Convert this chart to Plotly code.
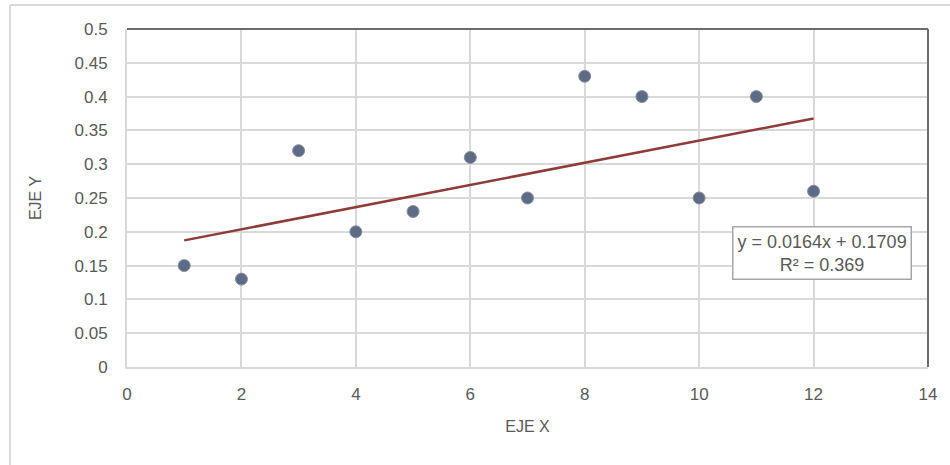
import numpy as np
import plotly.graph_objects as go

# Observed values
x_vals = [1, 2, 3, 4, 5, 6, 7, 8, 9, 10, 11, 12]
y_vals = [0.15, 0.13, 0.32, 0.20, 0.23, 0.31, 0.25, 0.43, 0.40, 0.25, 0.40, 0.26]

x_ticks = [0, 2, 4, 6, 8, 10, 12, 14]
y_ticks = [0, 0.05, 0.1, 0.15, 0.2, 0.25, 0.3, 0.35, 0.4, 0.45, 0.5]
y_tick_text = ["0", "0.05", "0.1", "0.15", "0.2", "0.25", "0.3", "0.35", "0.4", "0.45", "0.5"]

# Least-squares linear trend
xa = np.array(x_vals, dtype=float)
ya = np.array(y_vals, dtype=float)
slope, intercept = np.polyfit(xa, ya, 1)
fit = slope * xa + intercept
r2 = 1 - np.sum((ya - fit) ** 2) / np.sum((ya - ya.mean()) ** 2)
trend_x = [xa.min(), xa.max()]
trend_y = [slope * v + intercept for v in trend_x]

FONT = "Liberation Sans"
GRID = "#d9d9d9"
TXT = "#595959"

fig = go.Figure()
fig.add_trace(go.Scatter(
    x=trend_x, y=trend_y, mode="lines",
    line=dict(color="#8e3b3a", width=2.5),
    hoverinfo="skip", showlegend=False,
))
fig.add_trace(go.Scatter(
    x=x_vals, y=y_vals, mode="markers",
    marker=dict(size=12, color="#5d6b86", line=dict(color="#8a8f98", width=1)),
    showlegend=False,
))

fig.add_annotation(
    x=12.15, y=0.1686, xref="x", yref="y",
    text=f"y = {slope:.4f}x + {intercept:.4f}<br>R² = {r2:.3f}",
    showarrow=False, align="center",
    font=dict(family=FONT, size=18, color=TXT),
    bgcolor="white", bordercolor="#a6a6a6", borderwidth=1.5, borderpad=4,
)

# dark top and right edges of the plot area
fig.add_shape(type="line", xref="paper", yref="paper", x0=0, x1=1, y0=1, y1=1,
              line=dict(color="#6b6b6b", width=2))
fig.add_shape(type="line", xref="paper", yref="paper", x0=1, x1=1, y0=0, y1=1,
              line=dict(color="#6b6b6b", width=2))
# outer chart frame
fig.add_shape(type="line", xref="paper", yref="paper", x0=-0.146, x1=-0.146, y0=-0.35, y1=1.071,
              line=dict(color=GRID, width=2))
fig.add_shape(type="line", xref="paper", yref="paper", x0=-0.146, x1=1.1, y0=1.071, y1=1.071,
              line=dict(color=GRID, width=2))

fig.update_xaxes(
    range=[0, 14], tickvals=x_ticks, ticktext=[str(t) for t in x_ticks],
    showgrid=True, gridcolor=GRID, gridwidth=1.5,
    showline=True, linecolor=GRID, linewidth=2,
    zeroline=False, ticks="", ticklabelstandoff=11,
    tickfont=dict(family=FONT, size=17, color=TXT),
    title=dict(text="EJE X", font=dict(family=FONT, size=16, color=TXT), standoff=17),
)
fig.update_yaxes(
    range=[0, 0.5], tickvals=y_ticks, ticktext=y_tick_text,
    showgrid=True, gridcolor=GRID, gridwidth=1.5,
    showline=True, linecolor=GRID, linewidth=2,
    zeroline=False, ticks="", ticklabelstandoff=14,
    tickfont=dict(family=FONT, size=17, color=TXT),
    title=dict(text="EJE Y", font=dict(family=FONT, size=16, color=TXT), standoff=29),
)

fig.update_layout(
    width=950, height=465,
    margin=dict(l=127, r=22, t=29, b=98),
    paper_bgcolor="white", plot_bgcolor="white",
)

fig.write_html("out.html")
